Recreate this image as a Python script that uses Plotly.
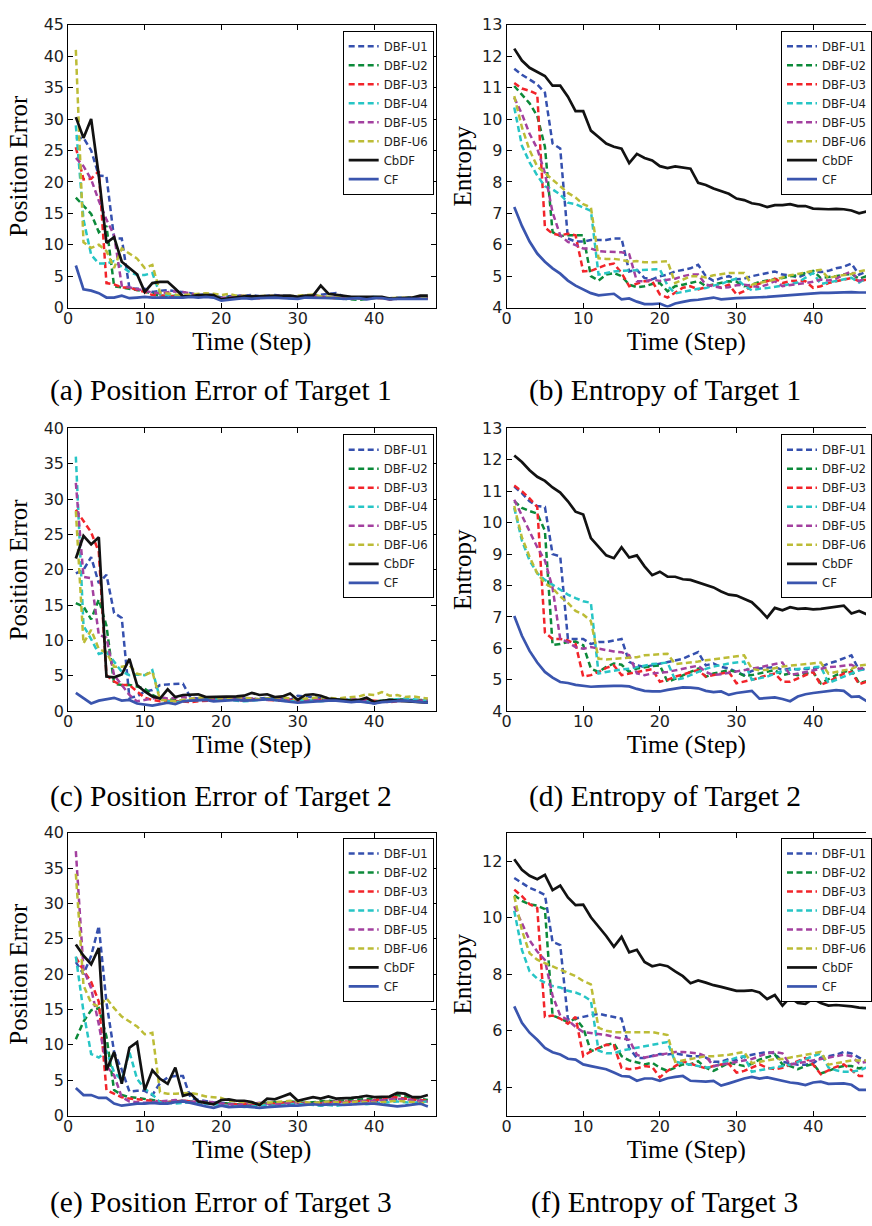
import plotly.graph_objects as go

# ---------------- data ----------------
steps = list(range(1, 48))
series_names = ["DBF-U1", "DBF-U2", "DBF-U3", "DBF-U4", "DBF-U5", "DBF-U6", "CbDF", "CF"]

# (a) Position Error of Target 1
pe1_u1 = [27.0, 27.0, 25.0, 21.0, 20.9, 11.0, 11.0, 3.1, 3.0, 3.0, 2.5, 2.6, 2.8, 2.6, 2.5, 2.3, 2.0, 2.1, 2.0, 1.6, 1.8, 1.9, 2.0, 2.0, 1.8, 1.9, 2.0, 1.9, 1.8, 1.7, 1.8, 1.9, 2.0, 2.1, 2.3, 1.8, 1.6, 1.5, 1.6, 1.7, 1.6, 1.5, 1.6, 1.6, 1.5, 1.6, 1.5]
pe1_u2 = [17.5, 16.2, 14.9, 12.0, 13.0, 3.4, 3.2, 3.0, 2.9, 2.6, 2.2, 1.9, 1.8, 1.9, 1.7, 1.8, 1.9, 2.0, 1.9, 1.5, 1.6, 1.7, 1.8, 1.7, 1.6, 1.7, 1.8, 1.7, 1.6, 1.6, 1.7, 1.8, 1.7, 1.6, 1.5, 1.5, 1.4, 1.2, 1.4, 1.5, 1.6, 1.4, 1.5, 1.5, 1.6, 1.5, 1.6]
pe1_u3 = [25.5, 20.4, 20.5, 21.7, 3.9, 3.7, 3.2, 3.2, 2.8, 2.5, 2.0, 1.9, 1.8, 1.8, 1.7, 1.8, 1.9, 1.9, 1.8, 1.4, 1.5, 1.6, 1.7, 1.6, 1.5, 1.6, 1.7, 1.6, 1.6, 1.5, 1.7, 1.8, 1.7, 1.6, 1.5, 1.4, 1.5, 1.4, 1.5, 1.6, 1.5, 1.3, 1.4, 1.5, 1.5, 1.4, 1.5]
pe1_u4 = [29.0, 14.0, 8.4, 7.0, 7.0, 7.4, 6.5, 5.7, 5.2, 5.2, 5.5, 2.1, 2.0, 1.9, 1.8, 1.9, 2.0, 1.9, 1.8, 1.4, 1.5, 1.6, 1.7, 1.6, 1.6, 1.7, 1.7, 1.6, 1.5, 1.5, 1.6, 1.7, 1.6, 1.6, 1.5, 1.4, 1.4, 1.5, 1.6, 1.7, 1.6, 1.4, 1.5, 1.4, 1.5, 1.5, 1.6]
pe1_u5 = [23.8, 22.5, 20.4, 17.0, 14.0, 11.5, 3.5, 3.2, 3.0, 2.6, 2.4, 2.3, 2.4, 2.6, 2.5, 2.2, 2.0, 1.9, 1.8, 1.5, 1.7, 1.8, 1.9, 1.8, 1.7, 1.8, 1.9, 1.8, 1.7, 1.6, 1.7, 1.8, 1.7, 1.6, 1.6, 1.5, 1.5, 1.6, 1.5, 1.6, 1.6, 1.4, 1.5, 1.5, 1.6, 1.5, 1.5]
pe1_u6 = [41.0, 10.4, 9.5, 10.0, 9.0, 6.3, 9.4, 8.6, 7.8, 6.3, 6.8, 2.4, 2.2, 2.1, 2.0, 2.1, 2.2, 2.3, 2.2, 2.0, 2.2, 1.9, 1.9, 1.8, 1.8, 1.9, 1.8, 1.8, 1.8, 1.9, 2.0, 2.1, 1.8, 1.7, 1.6, 1.6, 1.5, 1.5, 1.6, 1.6, 1.5, 1.5, 1.5, 1.6, 1.6, 1.7, 1.7]
pe1_cbdf = [30.3, 27.0, 30.0, 21.0, 10.3, 11.2, 7.3, 6.3, 5.3, 2.5, 3.9, 4.1, 4.1, 3.0, 1.8, 1.8, 2.0, 2.0, 2.0, 1.3, 1.5, 1.6, 1.8, 1.8, 1.8, 1.9, 1.9, 1.9, 1.9, 1.7, 1.9, 1.9, 3.5, 2.2, 2.0, 1.8, 1.7, 1.7, 1.7, 1.8, 1.7, 1.4, 1.5, 1.5, 1.6, 1.9, 1.9]
pe1_cf = [6.7, 2.9, 2.7, 2.3, 1.6, 1.6, 1.9, 1.5, 1.6, 1.7, 1.6, 1.6, 1.6, 1.5, 1.6, 1.7, 1.6, 1.7, 1.6, 1.1, 1.3, 1.4, 1.5, 1.4, 1.5, 1.6, 1.6, 1.5, 1.5, 1.4, 1.6, 1.6, 1.6, 1.6, 1.5, 1.4, 1.4, 1.5, 1.3, 1.5, 1.5, 1.3, 1.4, 1.4, 1.5, 1.5, 1.4]

# (b) Entropy of Target 1
en1_u1 = [11.6, 11.41, 11.26, 11.1, 10.84, 9.22, 9.06, 6.2, 6.1, 6.1, 6.15, 6.15, 6.15, 6.2, 6.2, 5.15, 5.2, 4.94, 4.9, 5.0, 5.05, 5.15, 5.2, 5.25, 5.36, 5.0, 4.85, 4.94, 5.0, 4.9, 4.92, 5.0, 5.05, 5.1, 5.15, 5.05, 5.03, 4.96, 5.05, 5.15, 5.13, 5.17, 5.25, 5.3, 5.4, 5.05, 5.15]
en1_u2 = [11.05, 10.79, 10.5, 10.1, 9.12, 6.4, 6.28, 6.3, 6.3, 6.3, 5.0, 4.86, 5.05, 5.1, 5.0, 4.73, 4.65, 4.68, 4.75, 4.78, 4.52, 4.68, 4.73, 4.78, 4.84, 4.68, 4.73, 4.78, 4.84, 4.82, 4.68, 4.73, 4.82, 4.86, 4.89, 4.94, 5.0, 5.03, 5.1, 5.17, 4.94, 4.96, 5.0, 5.05, 5.07, 4.92, 5.0]
en1_u3 = [11.15, 10.97, 10.9, 10.79, 6.55, 6.35, 6.3, 6.35, 6.3, 5.15, 5.17, 5.26, 5.36, 5.4, 5.1, 4.68, 4.75, 4.84, 4.84, 4.42, 4.32, 4.47, 4.63, 4.68, 4.58, 4.65, 4.73, 4.63, 4.73, 4.42, 4.52, 4.68, 4.75, 4.84, 4.92, 4.78, 4.84, 4.86, 4.84, 4.63, 4.68, 4.78, 4.84, 4.89, 4.94, 4.84, 4.89]
en1_u4 = [10.37, 9.15, 8.62, 8.2, 7.86, 7.76, 7.6, 7.34, 7.29, 7.19, 7.08, 5.05, 5.1, 5.15, 5.17, 5.18, 5.19, 5.2, 5.2, 5.22, 4.7, 4.45, 4.5, 4.55, 4.6, 4.62, 4.7, 4.75, 4.85, 4.92, 4.7, 4.55, 4.6, 4.62, 4.65, 4.7, 4.75, 4.8, 4.95, 5.1, 4.75, 4.8, 4.85, 4.9, 4.95, 4.8, 4.95]
en1_u5 = [10.68, 10.16, 9.53, 9.06, 8.28, 7.03, 6.3, 6.09, 5.99, 5.88, 5.88, 5.8, 5.78, 5.76, 5.76, 5.7, 4.84, 4.84, 4.89, 4.85, 4.89, 4.92, 5.0, 5.05, 5.05, 4.73, 4.68, 4.63, 4.65, 4.71, 4.73, 4.68, 4.65, 4.73, 4.84, 4.68, 4.71, 4.75, 4.78, 4.82, 4.89, 4.86, 4.92, 5.05, 5.15, 4.84, 4.96]
en1_u6 = [10.73, 9.74, 9.01, 8.49, 8.28, 8.07, 7.86, 7.65, 7.5, 7.29, 7.19, 5.57, 5.55, 5.55, 5.52, 5.46, 5.48, 5.44, 5.44, 5.46, 5.48, 4.78, 4.89, 5.0, 5.0, 4.96, 5.03, 5.07, 5.1, 5.1, 5.1, 4.73, 4.78, 4.84, 4.89, 4.96, 5.03, 5.07, 5.13, 5.17, 5.2, 4.94, 5.0, 5.03, 5.07, 5.15, 5.2]
en1_cbdf = [12.24, 11.86, 11.63, 11.5, 11.37, 11.06, 11.06, 10.71, 10.25, 10.25, 9.63, 9.43, 9.22, 9.12, 9.06, 8.6, 8.89, 8.76, 8.68, 8.5, 8.44, 8.49, 8.46, 8.42, 7.97, 7.9, 7.79, 7.71, 7.62, 7.47, 7.42, 7.32, 7.28, 7.2, 7.26, 7.26, 7.29, 7.23, 7.23, 7.15, 7.13, 7.13, 7.14, 7.13, 7.09, 7.0, 7.06]
en1_cf = [7.2, 6.6, 6.1, 5.72, 5.46, 5.25, 5.08, 4.86, 4.7, 4.57, 4.46, 4.39, 4.42, 4.44, 4.26, 4.29, 4.19, 4.11, 4.11, 4.13, 4.03, 4.13, 4.18, 4.23, 4.25, 4.28, 4.32, 4.26, 4.29, 4.3, 4.31, 4.33, 4.33, 4.34, 4.36, 4.38, 4.4, 4.42, 4.44, 4.46, 4.47, 4.47, 4.48, 4.49, 4.49, 4.48, 4.48]

# (c) Position Error of Target 2
pe2_u1 = [19.5, 20.0, 21.8, 18.1, 19.3, 13.9, 13.2, 1.9, 2.1, 2.8, 3.0, 3.7, 3.8, 3.9, 3.9, 1.9, 1.8, 1.9, 1.8, 1.7, 1.8, 1.9, 1.8, 1.7, 1.8, 1.9, 1.8, 1.7, 1.6, 2.2, 2.1, 2.0, 1.8, 1.7, 1.6, 1.5, 1.6, 1.5, 1.3, 1.1, 1.4, 1.5, 1.6, 1.7, 1.6, 1.5, 1.4]
pe2_u2 = [15.3, 14.8, 13.0, 15.8, 12.1, 3.9, 3.7, 3.7, 3.5, 3.2, 2.3, 1.8, 1.7, 1.6, 1.5, 1.6, 1.7, 1.8, 1.7, 1.8, 1.9, 1.8, 1.7, 1.6, 1.7, 1.8, 1.7, 1.6, 1.5, 1.4, 1.5, 1.6, 1.7, 1.6, 1.5, 1.6, 1.7, 1.6, 1.5, 1.4, 1.5, 1.6, 1.7, 1.6, 1.5, 1.6, 1.5]
pe2_u3 = [28.5, 26.9, 25.3, 22.5, 5.1, 4.2, 3.7, 3.7, 2.8, 1.9, 1.6, 1.4, 1.5, 1.4, 1.3, 1.3, 1.4, 1.5, 1.6, 1.7, 1.7, 1.6, 1.5, 1.6, 1.7, 1.6, 1.5, 1.5, 1.6, 1.5, 1.4, 1.5, 1.6, 1.7, 1.6, 1.5, 1.4, 1.5, 1.6, 1.5, 1.4, 1.3, 1.4, 1.5, 1.4, 1.5, 1.4]
pe2_u4 = [36.0, 12.1, 10.2, 8.1, 8.4, 7.0, 5.6, 5.1, 5.2, 5.1, 5.8, 1.8, 1.4, 1.3, 1.4, 1.5, 1.6, 1.7, 1.8, 1.7, 1.6, 1.5, 1.4, 1.5, 1.6, 1.7, 1.6, 1.5, 1.4, 1.5, 1.6, 1.5, 1.4, 1.5, 1.6, 1.7, 1.6, 1.5, 1.4, 1.3, 1.5, 1.6, 1.7, 1.8, 1.7, 1.6, 1.5]
pe2_u5 = [32.3, 19.0, 18.8, 10.8, 10.4, 5.1, 3.7, 2.3, 1.4, 1.6, 1.9, 2.0, 1.8, 1.9, 2.0, 1.8, 1.7, 1.6, 1.7, 1.8, 1.9, 2.0, 1.9, 1.8, 1.7, 1.6, 1.7, 1.8, 1.7, 1.6, 1.5, 1.6, 1.7, 1.6, 1.5, 1.6, 1.7, 1.6, 1.5, 1.2, 1.4, 1.5, 1.6, 1.5, 1.4, 1.5, 1.6]
pe2_u6 = [28.3, 9.6, 11.5, 8.8, 8.3, 6.3, 6.3, 6.5, 5.3, 5.1, 5.6, 1.6, 1.5, 1.4, 1.6, 1.8, 1.9, 2.0, 1.9, 1.8, 1.9, 2.0, 1.9, 1.8, 1.7, 1.8, 1.9, 2.0, 1.8, 1.7, 1.8, 1.9, 2.0, 1.9, 1.8, 1.9, 2.0, 2.1, 2.4, 2.3, 2.7, 2.2, 2.3, 2.0, 2.1, 1.9, 1.8]
pe2_cbdf = [21.6, 24.8, 23.6, 24.6, 4.9, 4.8, 5.2, 7.4, 3.7, 2.8, 2.1, 1.8, 3.1, 2.0, 2.3, 2.4, 2.4, 2.0, 2.0, 2.1, 2.1, 2.1, 2.2, 2.6, 2.3, 2.4, 2.0, 2.1, 2.5, 1.6, 2.3, 2.4, 2.2, 1.8, 1.7, 1.6, 1.5, 1.6, 1.9, 1.3, 1.5, 1.6, 1.5, 1.4, 1.4, 1.3, 1.2]
pe2_cf = [2.6, 1.9, 1.1, 1.5, 1.7, 1.9, 1.5, 1.6, 1.1, 1.0, 0.8, 1.0, 1.2, 1.0, 1.4, 1.5, 1.5, 1.6, 1.4, 1.5, 1.6, 1.6, 1.5, 1.5, 1.6, 1.7, 1.6, 1.5, 1.3, 1.2, 1.3, 1.4, 1.4, 1.5, 1.5, 1.4, 1.3, 1.4, 1.3, 1.1, 1.3, 1.4, 1.5, 1.5, 1.4, 1.3, 1.2]

# (d) Entropy of Target 2
en2_u1 = [11.15, 10.94, 10.68, 10.53, 10.5, 9.0, 8.93, 6.3, 6.3, 6.3, 6.14, 6.2, 6.2, 6.25, 6.3, 5.57, 5.46, 5.41, 5.46, 5.52, 5.57, 5.62, 5.67, 5.78, 5.88, 5.46, 5.52, 5.41, 5.36, 5.25, 5.15, 5.28, 5.36, 5.38, 5.41, 5.31, 5.36, 5.33, 5.34, 5.36, 5.41, 5.52, 5.59, 5.69, 5.78, 5.31, 5.36]
en2_u2 = [10.68, 10.47, 10.37, 10.29, 9.74, 6.11, 6.14, 6.2, 6.22, 6.1, 5.36, 5.25, 5.41, 5.52, 5.48, 5.25, 5.36, 5.41, 5.44, 5.46, 4.94, 5.03, 5.15, 5.25, 5.36, 5.1, 5.2, 5.25, 5.31, 5.25, 5.13, 5.15, 5.2, 5.25, 5.31, 5.15, 5.2, 5.15, 5.2, 5.25, 4.89, 5.03, 5.15, 5.25, 5.31, 4.89, 4.96]
en2_u3 = [11.18, 11.0, 10.77, 10.5, 6.51, 6.3, 6.3, 6.25, 6.14, 5.1, 5.15, 5.25, 5.38, 5.46, 5.15, 5.2, 5.25, 5.31, 5.34, 4.94, 5.0, 5.1, 5.17, 5.25, 5.31, 5.1, 5.15, 5.2, 5.25, 4.89, 4.94, 5.0, 5.07, 5.15, 5.2, 4.94, 4.94, 5.05, 5.15, 5.25, 4.84, 4.94, 5.07, 5.2, 5.25, 4.86, 4.94]
en2_u4 = [10.47, 9.43, 8.8, 8.39, 8.18, 8.02, 7.86, 7.71, 7.6, 7.5, 7.45, 5.2, 5.25, 5.3, 5.33, 5.35, 5.4, 5.45, 5.5, 5.52, 5.55, 5.0, 5.05, 5.15, 5.25, 5.35, 5.42, 5.48, 5.52, 5.55, 5.58, 5.0, 5.05, 5.1, 5.2, 5.28, 5.32, 5.35, 5.38, 5.4, 5.42, 4.9, 5.0, 5.1, 5.2, 5.3, 5.35]
en2_u5 = [10.73, 10.21, 9.69, 9.22, 8.8, 7.92, 6.3, 6.2, 6.04, 5.99, 6.04, 5.99, 5.96, 5.9, 5.88, 5.78, 5.2, 5.15, 5.2, 5.22, 5.25, 5.3, 5.35, 5.4, 5.45, 5.25, 5.15, 5.18, 5.22, 5.25, 5.3, 5.35, 5.4, 5.45, 5.5, 5.55, 5.15, 5.2, 5.25, 5.3, 5.35, 5.4, 5.42, 5.45, 5.48, 5.35, 5.4]
en2_u6 = [10.53, 9.53, 8.91, 8.39, 8.07, 7.92, 7.65, 7.45, 7.19, 7.08, 6.87, 5.67, 5.65, 5.67, 5.69, 5.72, 5.72, 5.78, 5.8, 5.8, 5.83, 5.5, 5.52, 5.55, 5.58, 5.62, 5.65, 5.68, 5.72, 5.75, 5.78, 5.35, 5.3, 5.32, 5.38, 5.42, 5.45, 5.48, 5.5, 5.52, 5.55, 5.2, 5.25, 5.3, 5.35, 5.45, 5.48]
en2_cbdf = [12.14, 11.93, 11.67, 11.46, 11.33, 11.12, 10.96, 10.68, 10.35, 10.26, 9.51, 9.24, 8.96, 8.87, 9.22, 8.89, 8.96, 8.61, 8.33, 8.44, 8.28, 8.28, 8.2, 8.18, 8.1, 8.02, 7.94, 7.81, 7.71, 7.68, 7.57, 7.47, 7.24, 6.98, 7.29, 7.21, 7.31, 7.26, 7.27, 7.24, 7.26, 7.29, 7.31, 7.36, 7.11, 7.19, 7.08]
en2_cf = [7.03, 6.4, 5.92, 5.55, 5.25, 5.07, 4.93, 4.9, 4.84, 4.8, 4.78, 4.79, 4.81, 4.81, 4.81, 4.79, 4.71, 4.65, 4.63, 4.63, 4.68, 4.73, 4.76, 4.75, 4.73, 4.65, 4.61, 4.63, 4.52, 4.58, 4.61, 4.65, 4.4, 4.42, 4.44, 4.39, 4.32, 4.47, 4.54, 4.58, 4.61, 4.65, 4.67, 4.65, 4.46, 4.47, 4.32]

# (e) Position Error of Target 3
pe3_u1 = [21.7, 20.0, 22.6, 26.8, 16.0, 9.0, 6.5, 3.4, 3.5, 3.5, 2.9, 4.6, 5.4, 5.6, 5.6, 2.5, 2.2, 2.0, 1.9, 1.8, 1.7, 1.6, 1.5, 1.4, 1.5, 1.6, 1.5, 1.6, 1.7, 1.8, 1.7, 1.8, 1.9, 2.0, 1.9, 1.8, 1.9, 2.0, 2.1, 2.0, 2.1, 2.2, 2.3, 2.4, 2.3, 2.2, 2.1]
pe3_u2 = [10.8, 13.3, 14.9, 15.2, 11.2, 3.6, 2.9, 2.6, 2.5, 2.4, 2.2, 2.0, 1.9, 2.0, 2.1, 2.0, 1.9, 1.8, 1.7, 1.8, 1.7, 1.6, 1.5, 1.6, 1.7, 1.8, 1.9, 1.8, 2.0, 1.9, 1.8, 1.9, 2.0, 2.1, 2.0, 2.1, 2.2, 2.3, 2.4, 2.4, 2.5, 2.6, 2.9, 2.7, 2.5, 2.4, 2.2]
pe3_u3 = [22.4, 20.5, 18.9, 16.1, 3.6, 3.1, 2.6, 2.4, 2.3, 2.2, 2.1, 2.0, 1.9, 2.0, 2.1, 2.0, 1.9, 1.8, 1.7, 1.6, 1.5, 1.6, 1.7, 1.6, 1.5, 1.6, 1.7, 1.8, 1.9, 1.8, 1.7, 1.6, 1.7, 1.8, 1.9, 2.0, 1.9, 2.0, 2.1, 2.2, 2.3, 2.7, 2.5, 2.4, 2.3, 2.2, 2.1]
pe3_u4 = [22.5, 14.7, 8.7, 8.2, 9.1, 6.1, 5.0, 9.0, 5.2, 3.8, 3.0, 1.9, 1.8, 1.7, 1.8, 1.9, 1.8, 1.7, 1.6, 1.5, 1.4, 1.3, 1.2, 1.3, 1.4, 1.5, 1.4, 1.5, 1.6, 1.7, 1.6, 1.5, 1.4, 1.5, 1.4, 1.5, 1.6, 1.7, 1.6, 1.7, 1.8, 1.9, 2.0, 1.9, 1.8, 1.9, 2.0]
pe3_u5 = [37.4, 20.7, 18.0, 12.9, 7.0, 5.7, 2.6, 2.0, 1.9, 1.8, 1.9, 2.0, 2.1, 2.2, 2.1, 2.0, 1.9, 2.0, 1.8, 1.7, 1.6, 1.5, 1.6, 1.7, 1.8, 1.7, 1.6, 1.7, 1.8, 1.9, 1.8, 1.7, 1.8, 1.9, 2.0, 1.9, 2.0, 2.1, 2.0, 2.1, 2.2, 2.3, 2.4, 2.3, 2.2, 2.1, 2.0]
pe3_u6 = [34.2, 18.4, 15.9, 15.4, 16.6, 15.2, 14.0, 13.3, 12.6, 11.5, 11.7, 3.3, 3.1, 3.1, 3.2, 3.2, 3.0, 2.7, 2.6, 2.5, 2.1, 2.0, 1.9, 1.8, 1.7, 1.8, 1.9, 2.0, 2.1, 2.0, 1.9, 1.8, 1.9, 2.0, 1.9, 1.8, 1.9, 2.0, 1.9, 1.8, 1.9, 2.0, 2.1, 2.0, 1.9, 1.8, 1.7]
pe3_cbdf = [24.2, 22.6, 21.4, 23.7, 6.4, 9.0, 4.5, 9.6, 10.4, 3.6, 6.4, 5.2, 4.5, 6.8, 2.8, 3.1, 2.0, 1.8, 1.6, 2.2, 2.3, 2.1, 2.1, 1.9, 1.5, 2.4, 2.3, 2.7, 3.1, 2.1, 2.4, 2.6, 2.4, 2.7, 2.4, 2.4, 2.5, 2.6, 2.8, 2.6, 2.6, 2.7, 3.2, 3.1, 2.6, 2.6, 2.9]
pe3_cf = [3.9, 2.9, 2.9, 2.5, 2.5, 1.7, 1.4, 1.6, 1.7, 1.7, 1.8, 1.7, 1.7, 1.9, 2.0, 1.8, 1.5, 1.3, 1.1, 1.4, 1.2, 1.3, 1.3, 1.2, 1.1, 1.2, 1.3, 1.3, 1.4, 1.4, 1.5, 1.6, 1.5, 1.6, 1.6, 1.5, 1.6, 1.7, 1.7, 1.7, 1.6, 1.5, 1.3, 1.4, 1.6, 1.7, 1.3]

# (f) Entropy of Target 3
en3_u1 = [11.4, 11.23, 11.05, 10.94, 10.8, 9.14, 9.03, 6.4, 6.43, 6.49, 6.54, 6.6, 6.54, 6.49, 6.43, 5.39, 5.04, 5.04, 5.1, 5.18, 5.16, 5.2, 5.15, 5.1, 5.1, 5.05, 4.9, 4.9, 5.0, 4.95, 5.1, 5.15, 5.2, 5.25, 5.2, 4.9, 4.85, 4.8, 4.8, 4.85, 5.05, 5.1, 5.15, 5.25, 5.2, 5.05, 4.9]
en3_u2 = [10.79, 10.59, 10.47, 10.42, 10.3, 6.54, 6.43, 6.31, 6.43, 6.1, 5.27, 5.39, 5.5, 5.56, 5.1, 4.95, 4.87, 4.81, 4.87, 4.69, 4.58, 4.69, 4.81, 4.81, 4.92, 4.69, 4.58, 4.72, 4.87, 4.81, 4.75, 4.83, 4.98, 5.06, 5.16, 4.81, 4.75, 4.64, 4.75, 4.83, 4.49, 4.58, 4.69, 4.75, 4.75, 4.67, 4.72]
en3_u3 = [10.99, 10.76, 10.47, 10.34, 6.49, 6.54, 6.43, 6.25, 6.49, 5.1, 5.27, 5.39, 5.5, 5.48, 4.69, 4.64, 4.67, 4.75, 4.72, 4.35, 4.58, 4.75, 4.92, 4.83, 4.75, 4.67, 4.75, 4.81, 4.83, 4.52, 4.58, 4.69, 4.81, 4.69, 4.64, 4.69, 4.81, 4.92, 5.04, 4.8, 4.46, 4.6, 4.72, 4.81, 4.6, 4.4, 4.4]
en3_u4 = [10.24, 8.86, 8.1, 7.84, 7.7, 7.58, 7.53, 7.41, 7.35, 7.24, 7.06, 5.3, 5.2, 5.2, 5.3, 5.35, 5.4, 5.45, 5.5, 5.55, 5.6, 4.9, 4.85, 4.8, 4.75, 4.7, 4.72, 4.85, 4.95, 5.05, 5.1, 4.55, 4.6, 4.65, 4.7, 4.75, 4.8, 4.9, 5.0, 5.1, 5.2, 4.7, 4.6, 4.55, 4.55, 4.6, 4.7]
en3_u5 = [10.4, 9.78, 9.2, 8.8, 8.5, 7.24, 6.54, 6.37, 6.14, 5.95, 5.92, 5.9, 5.85, 5.78, 5.72, 5.68, 5.15, 5.05, 5.1, 5.15, 5.2, 5.25, 5.25, 5.22, 5.2, 5.1, 4.75, 4.8, 4.85, 4.9, 4.95, 5.0, 5.1, 5.2, 5.25, 5.2, 4.8, 4.85, 4.9, 4.95, 5.0, 5.05, 5.1, 5.15, 5.1, 4.85, 4.9]
en3_u6 = [10.76, 9.55, 8.74, 8.51, 8.39, 8.28, 8.16, 8.05, 7.93, 7.76, 7.64, 6.1, 6.0, 5.95, 5.95, 5.95, 5.95, 5.95, 5.95, 5.9, 5.85, 4.9, 4.95, 5.0, 5.05, 5.1, 5.1, 5.12, 5.15, 5.2, 5.25, 4.85, 4.9, 4.95, 5.0, 5.0, 5.05, 5.1, 5.15, 5.2, 5.25, 4.8, 4.85, 4.9, 4.95, 4.95, 4.95]
en3_cbdf = [12.06, 11.69, 11.48, 11.36, 11.51, 10.97, 11.13, 10.71, 10.44, 10.46, 10.01, 9.7, 9.35, 8.97, 9.32, 8.77, 8.86, 8.43, 8.28, 8.34, 8.28, 8.1, 7.93, 7.68, 7.78, 7.7, 7.61, 7.55, 7.47, 7.41, 7.41, 7.43, 7.35, 7.12, 7.26, 6.89, 7.18, 6.98, 6.95, 7.14, 6.98, 6.89, 6.91, 6.89, 6.86, 6.82, 6.8]
en3_cf = [6.86, 6.28, 5.93, 5.68, 5.39, 5.24, 5.16, 5.01, 4.98, 4.81, 4.75, 4.69, 4.64, 4.52, 4.4, 4.38, 4.23, 4.31, 4.31, 4.23, 4.32, 4.37, 4.4, 4.23, 4.21, 4.2, 4.23, 4.06, 4.14, 4.23, 4.31, 4.37, 4.31, 4.35, 4.29, 4.23, 4.17, 4.14, 4.08, 4.17, 4.2, 4.12, 4.12, 4.14, 4.09, 3.91, 3.91]

captions = ["(a) Position Error of Target 1", "(b) Entropy of Target 1",
            "(c) Position Error of Target 2", "(d) Entropy of Target 2",
            "(e) Position Error of Target 3", "(f) Entropy of Target 3"]
y_titles = ["Position Error", "Entropy"] * 3
x_title = "Time (Step)"

# ---------------- style ----------------
W, H = 872, 1226
colors = ["#3550ae", "#0c8a3a", "#f2242a", "#27c5c5", "#a3409f", "#bcbc36", "#121212", "#3a55ae"]
dashed = [True] * 6 + [False, False]

panel_series = [
    [pe1_u1, pe1_u2, pe1_u3, pe1_u4, pe1_u5, pe1_u6, pe1_cbdf, pe1_cf],
    [en1_u1, en1_u2, en1_u3, en1_u4, en1_u5, en1_u6, en1_cbdf, en1_cf],
    [pe2_u1, pe2_u2, pe2_u3, pe2_u4, pe2_u5, pe2_u6, pe2_cbdf, pe2_cf],
    [en2_u1, en2_u2, en2_u3, en2_u4, en2_u5, en2_u6, en2_cbdf, en2_cf],
    [pe3_u1, pe3_u2, pe3_u3, pe3_u4, pe3_u5, pe3_u6, pe3_cbdf, pe3_cf],
    [en3_u1, en3_u2, en3_u3, en3_u4, en3_u5, en3_u6, en3_cbdf, en3_cf],
]
y_ranges = [[0, 45], [4, 13], [0, 40], [4, 13], [0, 40], [3, 13]]
y_dticks = [5, 1, 5, 1, 5, 2]

col_px = [(64, 436), (508, 872)]
x_ranges = [[0, 48], [0, 46.9]]
row_px = [(16, 303.3), (426, 713.3), (836.7, 1124)]
legend_px = [(342, 22), (786, 22), (342, 432), (786, 432), (342, 842), (786, 842)]
caption_px = [(219, 388), (668, 388), (219, 800), (668, 800), (219, 1212), (668, 1212)]
ytitle_standoff = [8, 3]

TICKFONT = dict(family="DejaVu Sans", size=16, color="#1e1e1e")
SERIF = "Liberation Serif"

fig = go.Figure()
layout = dict(width=W, height=H, margin=dict(l=0, r=0, t=0, b=0),
              paper_bgcolor="white", plot_bgcolor="white", showlegend=True,
              annotations=[])

for k in range(6):
    r, c = divmod(k, 2)
    sfx = "" if k == 0 else str(k + 1)
    x0, x1 = col_px[c]
    ytop, ybot = row_px[r]
    layout["xaxis" + sfx] = dict(
        domain=[x0 / W, x1 / W], range=x_ranges[c], anchor="y" + sfx,
        dtick=10, tick0=0, ticks="inside", ticklen=5, tickwidth=1, tickcolor="black",
        showline=True, linecolor="black", linewidth=1, mirror="ticks",
        showgrid=False, zeroline=False, tickfont=TICKFONT, ticklabelstandoff=-4,
        title=dict(text=x_title, font=dict(family=SERIF, size=25, color="black"), standoff=0),
    )
    layout["yaxis" + sfx] = dict(
        domain=[1 - ybot / H, 1 - ytop / H], range=y_ranges[k], anchor="x" + sfx,
        dtick=y_dticks[k], tick0=0, ticks="inside", ticklen=5, tickwidth=1, tickcolor="black",
        showline=True, linecolor="black", linewidth=1,
        mirror="ticks" if c == 0 else False,
        showgrid=False, zeroline=False, tickfont=TICKFONT,
        title=dict(text=y_titles[k], font=dict(family=SERIF, size=25, color="black"),
                   standoff=ytitle_standoff[c]),
    )
    lx, ly = legend_px[k]
    layout["legend" + sfx] = dict(
        x=lx / W, y=1 - ly / H, xanchor="left", yanchor="top", xref="paper", yref="paper",
        bgcolor="white", bordercolor="black", borderwidth=1,
        font=dict(family="DejaVu Sans", size=11.7, color="#1e1e1e"),
        tracegroupgap=0, itemwidth=30,
    )
    cx, cy = caption_px[k]
    layout["annotations"].append(dict(
        text=captions[k], x=cx / W, y=1 - cy / H, xref="paper", yref="paper",
        xanchor="center", yanchor="middle", showarrow=False,
        font=dict(family=SERIF, size=29.5, color="black")))

    for i, name in enumerate(series_names):
        fig.add_trace(go.Scatter(
            x=steps, y=panel_series[k][i], mode="lines", name=name,
            xaxis="x" + sfx, yaxis="y" + sfx, legend="legend" + sfx,
            line=dict(color=colors[i], width=2.5 if dashed[i] else 2.7,
                      dash="6px,3.5px" if dashed[i] else "solid"),
            cliponaxis=True,
        ))

fig.update_layout(**layout)
fig.write_html("out.html")
